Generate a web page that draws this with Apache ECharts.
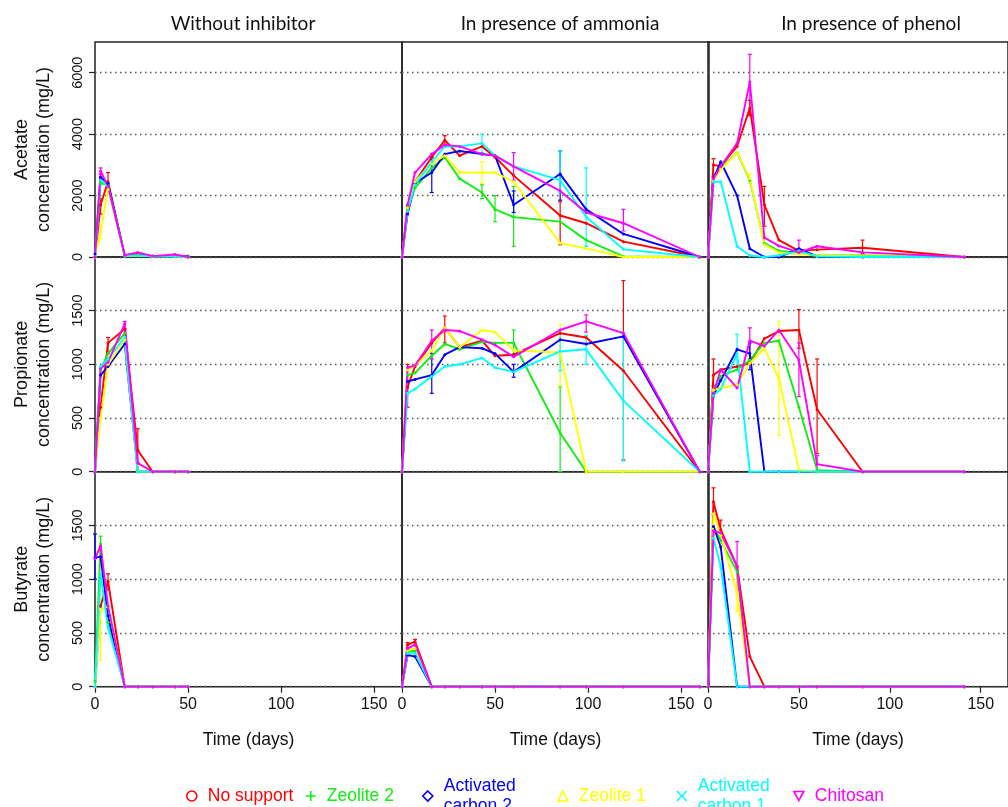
<!DOCTYPE html>
<html>
<head>
<meta charset="utf-8">
<script src="https://cdn.jsdelivr.net/npm/echarts@6/dist/echarts.min.js"></script>
<style>
  html, body { margin: 0; padding: 0; background: #fff; }
  #chart { width: 1008px; height: 807px; }
</style>
</head>
<body>
<div id="chart"></div>
<script>
// supports (one line per support in every panel)
const supports = ['No support', 'Zeolite 2', 'Activated carbon 2', 'Zeolite 1', 'Activated carbon 1', 'Chitosan']
const colors = ['#ff0000', '#11ee11', '#0000ff', '#ffff00', '#00ffff', '#ff00ff']

const columnTitles = ['Without inhibitor', 'In presence of ammonia', 'In presence of phenol']
const rowNames = ['Acetate\nconcentration (mg/L)', 'Propionate\nconcentration (mg/L)', 'Butyrate\nconcentration (mg/L)']
const rowMax = [7000, 2000, 2000]
const yTicks = [[0, 2000, 4000, 6000], [0, 500, 1000, 1500], [0, 500, 1000, 1500]]
const xTicks = [0, 50, 100, 150]

// sampling days per column
const daysNone = [0, 3, 7, 16, 23, 31, 43, 50]
const daysAmmonia = [0, 3, 7, 16, 23, 31, 43, 50, 60, 85, 99, 119, 160]
const daysPhenol = [0, 3, 7, 16, 23, 31, 39, 50, 60, 85, 141]

// rows: No support, Zeolite 2, Activated carbon 2, Zeolite 1, Activated carbon 1, Chitosan
const acetateNone = [
  [0, 1700, 2450, 50, 100, 30, 20, 0],
  [0, 2400, 2350, 40, 60, 20, 20, 0],
  [100, 2600, 2400, 30, 40, 20, 20, 30],
  [0, 800, 2200, 30, 40, 20, 20, 0],
  [0, 2500, 2300, 40, 50, 20, 20, 0],
  [0, 2800, 2300, 60, 150, 30, 80, 0],
]
const acetateAmmonia = [
  [0, 1650, 2450, 3250, 3800, 3300, 3600, 3250, 2650, 1350, 1100, 500, 0],
  [0, 1550, 2250, 2900, 3250, 2550, 2100, 1550, 1300, 1150, 550, 20, 0],
  [0, 1400, 2400, 2750, 3350, 3450, 3350, 3300, 1700, 2700, 1550, 750, 0],
  [0, 1600, 2450, 3050, 3300, 2750, 2750, 2750, 2450, 450, 280, 0, 0],
  [0, 1500, 2350, 3100, 3600, 3600, 3700, 3300, 2950, 2500, 1300, 250, 0],
  [0, 1700, 2750, 3350, 3650, 3600, 3350, 3300, 2950, 2150, 1450, 1100, 0],
]
const acetatePhenol = [
  [0, 3000, 2950, 3600, 4850, 1700, 550, 200, 240, 300, 0],
  [0, 2550, 2900, 3400, 2500, 450, 200, 150, 50, 50, 0],
  [0, 2550, 3100, 2000, 270, 0, 0, 270, 20, 0, 0],
  [0, 2500, 2850, 3400, 2550, 400, 150, 100, 50, 30, 0],
  [0, 2450, 2450, 350, 50, 0, 50, 200, 20, 0, 0],
  [0, 2550, 2950, 3700, 5700, 630, 360, 150, 350, 150, 0],
]
const propionateNone = [
  [0, 600, 1200, 1330, 200, 0, 0, 0],
  [0, 950, 1100, 1290, 0, 0, 0, 0],
  [0, 900, 980, 1190, 0, 0, 0, 0],
  [0, 500, 1000, 1230, 0, 0, 0, 0],
  [0, 980, 1050, 1250, 0, 0, 0, 0],
  [0, 960, 1020, 1380, 80, 0, 0, 0],
]
const propionateAmmonia = [
  [0, 790, 980, 1200, 1340, 1160, 1220, 1080, 1090, 1290, 1250, 940, 0],
  [0, 900, 920, 1080, 1190, 1140, 1210, 1200, 1200, 360, 0, 0, 0],
  [0, 840, 860, 900, 1090, 1160, 1150, 1100, 930, 1230, 1190, 1260, 0],
  [0, 950, 990, 1130, 1340, 1160, 1320, 1300, 1130, 1110, 0, 0, 0],
  [0, 730, 770, 890, 980, 1000, 1060, 970, 930, 1120, 1140, 660, 0],
  [0, 970, 990, 1220, 1320, 1310, 1230, 1180, 1070, 1320, 1400, 1290, 0],
]
const propionatePhenol = [
  [0, 900, 950, 980, 1010, 1240, 1310, 1320, 580, 0, 0],
  [0, 760, 890, 950, 1040, 1200, 1220, 600, 15, 0, 0],
  [0, 710, 850, 1140, 1100, 0, 0, 0, 0, 0, 0],
  [0, 760, 780, 810, 1010, 1150, 870, 15, 0, 0, 0],
  [0, 710, 770, 1100, 0, 0, 0, 0, 0, 0, 0],
  [0, 730, 950, 780, 1220, 1170, 1320, 1040, 70, 0, 0],
]
const butyrateNone = [
  [0, 750, 980, 0, 0, 0, 0, 0],
  [50, 1330, 600, 0, 0, 0, 0, 0],
  [1200, 1210, 660, 0, 0, 0, 0, 0],
  [0, 720, 750, 0, 0, 0, 0, 0],
  [0, 1050, 550, 0, 0, 0, 0, 0],
  [1190, 1310, 750, 0, 0, 0, 0, 0],
]
const butyrateAmmonia = [
  [0, 390, 420, 0, 0, 0, 0, 0, 0, 0, 0, 0, 0],
  [0, 325, 335, 0, 0, 0, 0, 0, 0, 0, 0, 0, 0],
  [0, 295, 280, 0, 0, 0, 0, 0, 0, 0, 0, 0, 0],
  [0, 340, 355, 0, 0, 0, 0, 0, 0, 0, 0, 0, 0],
  [0, 310, 310, 0, 0, 0, 0, 0, 0, 0, 0, 0, 0],
  [0, 355, 390, 0, 0, 0, 0, 0, 0, 0, 0, 0, 0],
]
const butyratePhenol = [
  [0, 1720, 1460, 1120, 280, 0, 0, 0, 0, 0, 0],
  [0, 1490, 1360, 1070, 0, 0, 0, 0, 0, 0, 0],
  [0, 1490, 1300, 0, 0, 0, 0, 0, 0, 0, 0],
  [0, 1610, 1410, 870, 0, 0, 0, 0, 0, 0, 0],
  [0, 1380, 1120, 0, 0, 0, 0, 0, 0, 0, 0],
  [0, 1450, 1430, 1120, 0, 0, 0, 0, 0, 0, 0],
]

// error bars: [row, col, support, day, low, high]
const errorBars = [
  [0, 0, 0, 3, 1400, 1900], [0, 0, 0, 7, 2200, 2750], [0, 0, 5, 3, 2700, 2900], [0, 0, 3, 3, 600, 1000],
  [0, 1, 2, 16, 2100, 3250], [0, 1, 2, 85, 1850, 3450], [0, 1, 4, 99, 350, 2900], [0, 1, 1, 60, 350, 2300],
  [0, 1, 1, 50, 1150, 2000], [0, 1, 5, 119, 850, 1550], [0, 1, 0, 85, 400, 1800], [0, 1, 4, 43, 3400, 4000],
  [0, 1, 5, 60, 2500, 3400], [0, 1, 3, 43, 2400, 3100], [0, 1, 1, 43, 1900, 2350], [0, 1, 2, 60, 1450, 2150],
  [0, 1, 4, 85, 2100, 3450], [0, 1, 0, 23, 3650, 3950],
  [0, 2, 5, 23, 4650, 6600], [0, 2, 0, 23, 4600, 5100], [0, 2, 0, 31, 1000, 2300], [0, 2, 0, 3, 2600, 3200],
  [0, 2, 5, 50, 100, 550], [0, 2, 0, 85, 100, 550], [0, 2, 4, 3, 2300, 2700], [0, 2, 3, 23, 2400, 2700],
  [1, 0, 0, 23, 80, 400], [1, 0, 0, 7, 1100, 1250], [1, 0, 5, 16, 1330, 1400],
  [1, 1, 0, 119, 110, 1780], [1, 1, 4, 119, 100, 1300], [1, 1, 1, 85, 0, 790], [1, 1, 3, 85, 800, 1370],
  [1, 1, 2, 16, 730, 1100], [1, 1, 0, 23, 1200, 1450], [1, 1, 5, 16, 1050, 1320], [1, 1, 1, 60, 1100, 1320],
  [1, 1, 5, 99, 1300, 1460], [1, 1, 4, 85, 940, 1320], [1, 1, 4, 99, 1000, 1270], [1, 1, 2, 60, 880, 1000],
  [1, 1, 0, 3, 600, 1000],
  [1, 2, 0, 60, 170, 1050], [1, 2, 0, 50, 1150, 1510], [1, 2, 3, 39, 340, 1400], [1, 2, 4, 16, 950, 1280],
  [1, 2, 5, 23, 1050, 1340], [1, 2, 5, 50, 700, 1200], [1, 2, 0, 3, 800, 1050], [1, 2, 2, 23, 950, 1200],
  [1, 2, 5, 60, 0, 150],
  [2, 0, 3, 3, 250, 1000], [2, 0, 0, 7, 900, 1050], [2, 0, 1, 3, 1270, 1400], [2, 0, 2, 0, 1000, 1420],
  [2, 1, 0, 3, 360, 410], [2, 1, 0, 7, 390, 440],
  [2, 2, 0, 3, 1600, 1850], [2, 2, 5, 16, 900, 1350], [2, 2, 3, 16, 700, 1050], [2, 2, 0, 7, 1380, 1550],
]

const panelDays = [daysNone, daysAmmonia, daysPhenol]
const panelData = [
  [acetateNone, acetateAmmonia, acetatePhenol],
  [propionateNone, propionateAmmonia, propionatePhenol],
  [butyrateNone, butyrateAmmonia, butyratePhenol],
]

// layout of the 3x3 panels
const colLeft = [95, 402, 708]
const colWidth = 307
const rowTop = [42, 257, 471.7]
const rowHeight = [215, 214.7, 215]
const titleCenter = [238, 555, 866]

const legendIcons = [
  'circle',
  'path://M5,0L5,10M0,5L10,5',
  'diamond',
  'triangle',
  'path://M0,0L10,10M10,0L0,10',
  'path://M0,0L10,0L5,9Z',
]
// icon centres of the legend entries
const legendCenter = [191, 310, 427, 562, 681, 798]

const axisFont = 'Liberation Sans, Arial, sans-serif'

const chart = echarts.init(document.getElementById('chart'))

const grid = [], xAxis = [], yAxis = [], series = []
for (let r = 0; r < 3; r++) {
  for (let c = 0; c < 3; c++) {
    const g = r * 3 + c
    const bottom = r === 2
    const first = c === 0
    grid.push({
      left: colLeft[c], top: rowTop[r], width: colWidth, height: rowHeight[r],
      show: true, borderColor: '#222', borderWidth: 1.5, backgroundColor: 'transparent',
    })
    xAxis.push({
      type: 'value', gridIndex: g, min: 0, max: 165, interval: 50,
      axisLine: { show: false },
      splitLine: { show: false },
      axisTick: { show: bottom, length: 6, customValues: xTicks, lineStyle: { color: '#222', width: 1.2 } },
      axisLabel: { show: bottom, customValues: xTicks, margin: 10, fontSize: 16, color: '#111', fontFamily: axisFont, formatter: v => String(v) },
      name: bottom ? 'Time (days)' : '',
      nameLocation: 'middle', nameGap: 44,
      nameTextStyle: { fontSize: 17.5, color: '#111', fontFamily: axisFont },
    })
    yAxis.push({
      type: 'value', gridIndex: g, min: 0, max: rowMax[r], interval: yTicks[r][1],
      axisLine: { show: false },
      splitLine: { show: true, lineStyle: { color: '#555', width: 1.3, type: [1.5, 3.5] } },
      axisTick: { show: first, length: 6, customValues: yTicks[r], lineStyle: { color: '#222', width: 1.2 } },
      axisLabel: { show: first, customValues: yTicks[r], rotate: 90, margin: 10, fontSize: 14.5, color: '#111', fontFamily: axisFont, formatter: v => String(v) },
      name: first ? rowNames[r] : '',
      nameLocation: 'middle', nameRotate: 90, nameGap: 40,
      nameTextStyle: { fontSize: 18, lineHeight: 22, color: '#111', fontFamily: axisFont },
    })
    const days = panelDays[c]
    panelData[r][c].forEach((vals, k) => {
      series.push({
        type: 'line', name: supports[k], xAxisIndex: g, yAxisIndex: g,
        data: days.map((d, i) => [d, vals[i]]),
        symbol: 'circle', symbolSize: 3, showSymbol: true,
        lineStyle: { width: 1.9, color: colors[k] },
        itemStyle: { color: colors[k] },
        animation: false, silent: true,
      })
    })
    const errs = errorBars.filter(e => e[0] === r && e[1] === c).map(e => [e[3], e[4], e[5], e[2]])
    series.push({
      type: 'custom', name: 'err', xAxisIndex: g, yAxisIndex: g,
      data: errs, encode: { x: 0, y: [1, 2] }, animation: false, silent: true, z: 3,
      renderItem(params, api) {
        const lo = api.coord([api.value(0), api.value(1)])
        const hi = api.coord([api.value(0), api.value(2)])
        const style = { stroke: colors[api.value(3)], lineWidth: 1.2 }
        return {
          type: 'group',
          children: [
            { type: 'line', shape: { x1: lo[0], y1: lo[1], x2: hi[0], y2: hi[1] }, style },
            { type: 'line', shape: { x1: lo[0] - 2, y1: lo[1], x2: lo[0] + 2, y2: lo[1] }, style },
            { type: 'line', shape: { x1: hi[0] - 2, y1: hi[1], x2: hi[0] + 2, y2: hi[1] }, style },
          ],
        }
      },
    })
  }
}

const legend = supports.map((s, i) => {
  const twoLines = s.startsWith('Activated')
  return {
    left: legendCenter[i] - 10, top: twoLines ? 771 : 781,
    data: [{ name: s, icon: legendIcons[i], itemStyle: { color: 'transparent', borderColor: colors[i], borderWidth: 1.6 } }],
    itemWidth: 10, itemHeight: 10, selectedMode: false,
    formatter: name => name.replace('Activated ', 'Activated\n'),
    textStyle: { color: colors[i], fontSize: 17.5, lineHeight: 20, fontFamily: axisFont, padding: [0, 0, 0, 6] },
  }
})

const option = {
  backgroundColor: '#fff',
  animation: false,
  title: columnTitles.map((t, i) => ({
    text: t, left: titleCenter[i], top: 9, textAlign: 'center',
    textStyle: { fontFamily: 'Lato, sans-serif', fontSize: 19, fontWeight: 'normal', color: '#111' },
  })),
  legend,
  grid, xAxis, yAxis, series,
}
chart.setOption(option)
</script>
</body>
</html>
